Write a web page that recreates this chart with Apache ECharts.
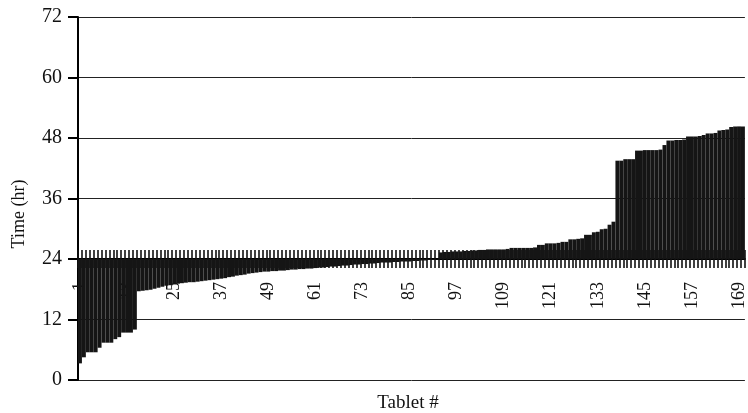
<!DOCTYPE html>
<html>
<head>
<meta charset="utf-8">
<script src="https://cdn.jsdelivr.net/npm/echarts@6/dist/echarts.min.js"></script>
<style>
  html, body { margin: 0; padding: 0; background: #fff; }
  #chart { width: 748px; height: 413px; }
</style>
</head>
<body>
<div id="chart"></div>
<script>
// Dissolution time of each tablet (hours), sorted ascending
const hours = [
  3.3, 4.5, 5.5, 5.5, 5.5, 6.4, 7.4, 7.4, 7.4, 8.1,
  8.5, 9.4, 9.4, 9.4, 10.0, 17.6, 17.7, 17.8, 17.9, 18.1,
  18.3, 18.5, 18.7, 18.8, 19.0, 19.1, 19.2, 19.3, 19.4, 19.4,
  19.5, 19.6, 19.7, 19.8, 19.9, 20.0, 20.1, 20.2, 20.4, 20.5,
  20.7, 20.8, 20.9, 21.1, 21.2, 21.3, 21.4, 21.5, 21.5, 21.6,
  21.6, 21.7, 21.7, 21.8, 21.9, 21.9, 22.0, 22.0, 22.1, 22.1,
  22.2, 22.3, 22.3, 22.4, 22.5, 22.5, 22.6, 22.7, 22.7, 22.8,
  22.9, 22.9, 23.0, 23.0, 23.1, 23.1, 23.2, 23.3, 23.3, 23.3,
  23.4, 23.4, 23.5, 23.5, 23.5, 23.6, 23.6, 23.7, 23.7, 23.8,
  23.8, 23.9, 25.3, 25.4, 25.4, 25.5, 25.5, 25.5, 25.6, 25.6,
  25.7, 25.7, 25.8, 25.8, 25.9, 25.9, 25.9, 25.9, 25.9, 26.0,
  26.2, 26.2, 26.2, 26.2, 26.2, 26.2, 26.3, 26.8, 26.8, 27.1,
  27.1, 27.1, 27.2, 27.4, 27.4, 27.9, 27.9, 28.0, 28.1, 28.8,
  28.8, 29.3, 29.4, 29.9, 30.0, 30.8, 31.4, 43.5, 43.5, 43.8,
  43.8, 43.8, 45.5, 45.5, 45.6, 45.6, 45.6, 45.6, 45.7, 46.6,
  47.5, 47.5, 47.6, 47.6, 47.7, 48.3, 48.3, 48.3, 48.4, 48.6,
  48.9, 48.9, 49.0, 49.5, 49.6, 49.7, 50.2, 50.3, 50.3, 50.3
];

// Tablet numbers 1..N
const tablets = hours.map((_, i) => String(i + 1));

// The category axis crosses the value axis here; bars grow from this line
const crossAt = 24;

// Value axis ticks
const yMin = 0, yMax = 72, yStep = 12;

// Bars are drawn as a stack: an invisible base up to min(v, crossAt),
// then the visible part spanning from crossAt to v
const baseData = hours.map(v => Math.min(v, crossAt));
const spanData = hours.map(v => Math.abs(v - crossAt));

const gridTop = 17, gridBottom = 33, chartH = 413;
const plotH = chartH - gridTop - gridBottom;
const crossFromBottom = plotH * (crossAt - yMin) / (yMax - yMin);
const crossFromTop = plotH - crossFromBottom;

const serif = '"Liberation Serif", "Times New Roman", serif';
const barColor = '#151515';
const tickStyle = { color: '#111', width: 1.6 };

const chart = echarts.init(document.getElementById('chart'), null, { renderer: 'canvas' });
chart.setOption({
  animation: false,
  backgroundColor: '#fff',
  grid: { left: 78, right: 0, top: gridTop, bottom: gridBottom },
  xAxis: [
    {
      type: 'category', data: tablets, position: 'bottom', offset: -crossFromBottom,
      axisLine: { show: true, lineStyle: { color: '#000', width: 2 } },
      axisTick: { show: true, interval: 0, length: 9, lineStyle: tickStyle },
      axisLabel: {
        show: true, interval: 11, rotate: 90, margin: 23,
        fontFamily: serif, fontSize: 18, color: '#111'
      }
    },
    {
      // same axis, ticks pointing upward so they cross the line
      type: 'category', data: tablets, position: 'top', offset: -crossFromTop,
      axisLine: { show: false },
      axisTick: { show: true, interval: 0, length: 9, lineStyle: tickStyle },
      axisLabel: { show: false }
    }
  ],
  yAxis: {
    type: 'value', min: yMin, max: yMax, interval: yStep,
    axisLine: { show: true, lineStyle: { color: '#000', width: 2 } },
    axisTick: { show: true, length: 10, lineStyle: { color: '#000', width: 2 } },
    axisLabel: { margin: 16, fontFamily: serif, fontSize: 20, color: '#111' },
    splitLine: { show: true, lineStyle: { color: '#222', width: 1 } }
  },
  series: [
    {
      type: 'bar', stack: 'tablet', data: baseData, barCategoryGap: '0%',
      itemStyle: { color: 'rgba(0,0,0,0)' }, silent: true
    },
    {
      type: 'bar', stack: 'tablet', data: spanData, barCategoryGap: '0%',
      itemStyle: { color: barColor }
    }
  ],
  graphic: [
    {
      type: 'text', rotation: Math.PI / 2,
      style: { text: 'Time (hr)', font: '18px ' + serif, fill: '#111', align: 'center', verticalAlign: 'middle' },
      x: 19, y: 214
    },
    {
      type: 'text',
      style: { text: 'Tablet #', font: '19px ' + serif, fill: '#111', align: 'center', verticalAlign: 'middle' },
      x: 408, y: 403
    }
  ]
});
</script>
</body>
</html>
